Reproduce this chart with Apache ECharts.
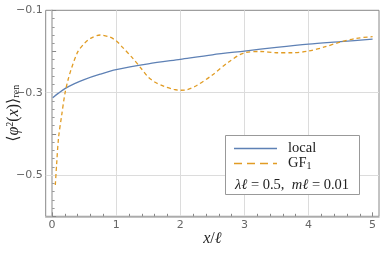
<!DOCTYPE html>
<html><head><meta charset="utf-8">
<script src="https://cdn.jsdelivr.net/npm/echarts@6/dist/echarts.min.js"></script>
<style>html,body{margin:0;padding:0;background:#fff}#c{width:390px;height:264px}</style>
</head><body><div id="c"></div>
<script>
const localX = [0.01, 0.1, 0.2, 0.35, 0.5, 0.75, 1, 1.5, 2, 2.5, 3, 3.5, 4, 4.5, 5];
const localY = [-0.312, -0.301, -0.290, -0.278, -0.268, -0.255, -0.244, -0.230, -0.219, -0.208, -0.199, -0.190, -0.182, -0.176, -0.170];
const gfX = [0.05, 0.07, 0.1, 0.15, 0.2, 0.25, 0.3, 0.4, 0.5, 0.6, 0.75, 0.9, 1.0, 1.1, 1.25, 1.4, 1.5, 1.6, 1.75, 1.9, 2.0, 2.1, 2.25, 2.5, 2.75, 3.0, 3.25, 3.5, 3.75, 4.0, 4.25, 4.5, 4.75, 5.0];
const gfY = [-0.524, -0.475, -0.41, -0.354, -0.302, -0.268, -0.242, -0.201, -0.181, -0.168, -0.160, -0.165, -0.174, -0.190, -0.215, -0.243, -0.262, -0.274, -0.285, -0.292, -0.294, -0.293, -0.283, -0.257, -0.226, -0.203, -0.200, -0.203, -0.203, -0.199, -0.189, -0.177, -0.168, -0.164];
const xLabels = [0, 1, 2, 3, 4, 5];
const xMinor = [0,0.2,0.4,0.6,0.8,1,1.2,1.4,1.6,1.8,2,2.2,2.4,2.6,2.8,3,3.2,3.4,3.6,3.8,4,4.2,4.4,4.6,4.8,5];
const yLabels = [-0.5, -0.3, -0.1];
const yMajor = [-0.6, -0.5, -0.4, -0.3, -0.2, -0.1];
const yMinor = [-0.58,-0.56,-0.54,-0.52,-0.48,-0.46,-0.44,-0.42,-0.38,-0.36,-0.34,-0.32,-0.28,-0.26,-0.24,-0.22,-0.18,-0.16,-0.14,-0.12];
const xGrid = [1, 2, 3, 4];
const yGrid = [-0.3, -0.5];

const chart = echarts.init(document.getElementById('c'), null, {renderer: 'canvas'});
const fmt = v => String(v).replace('-', '\u2212');
const serif = '"Liberation Serif","DejaVu Serif",serif';
const tickFont = {color: '#666', fontSize: 11, fontFamily: '"DejaVu Sans",sans-serif'};
const axisBase = {type: 'value', min: -0.1, max: 5.1};
const blue = '#5e81b5', orange = '#e19c24';
chart.setOption({
  animation: false,
  grid: {left: 45.7, right: 11, top: 10.3, bottom: 47.7, show: true, borderColor: '#888', borderWidth: 1, backgroundColor: 'transparent', outerBoundsMode: 'none', containLabel: false},
  xAxis: [
    Object.assign({}, axisBase, {
      position: 'bottom',
      axisLine: {show: true, lineStyle: {color: '#b0b0b0', width: 1.5}},
      axisTick: {show: true, inside: true, length: 4, customValues: xLabels, lineStyle: {color: '#888'}},
      axisLabel: {customValues: xLabels, formatter: fmt, margin: 3, ...tickFont},
      splitLine: {show: false},
      name: '{i|x}/{i|\u2113}', nameLocation: 'middle', nameGap: 14, nameMoveOverlap: false,
      nameTextStyle: {fontFamily: serif, fontSize: 16, color: '#222', verticalAlign: 'top', rich: {i: {fontStyle: 'italic', fontFamily: serif, fontSize: 16}}}
    }),
    Object.assign({}, axisBase, {
      position: 'bottom', offset: 0,
      axisLine: {show: false},
      axisTick: {show: true, inside: true, length: 2.5, customValues: xMinor, lineStyle: {color: '#888'}},
      axisLabel: {show: false},
      splitLine: {show: false}
    })
  ],
  yAxis: [
    {
      type: 'value', min: -0.6, max: -0.1, position: 'left',
      axisLine: {show: true, lineStyle: {color: '#b0b0b0', width: 1.5}},
      axisTick: {show: true, inside: true, length: 4, customValues: yMajor, lineStyle: {color: '#888'}},
      axisLabel: {customValues: yLabels, formatter: fmt, margin: 3, ...tickFont},
      splitLine: {show: false},
      name: '\u27E8{i|\u03C6}{sup|2}({i|x})\u27E9{sub|ren}', nameLocation: 'middle', nameGap: 24, nameRotate: 90, nameMoveOverlap: false,
      nameTextStyle: {fontFamily: serif, fontSize: 16, color: '#222',
        rich: {i: {fontStyle: 'italic', fontFamily: serif, fontSize: 16},
               sup: {fontFamily: serif, fontSize: 10, verticalAlign: 'top'},
               sub: {fontFamily: serif, fontSize: 10, verticalAlign: 'bottom'}}}
    },
    {
      type: 'value', min: -0.6, max: -0.1, position: 'left', offset: 0,
      axisLine: {show: false},
      axisTick: {show: true, inside: true, length: 2.5, customValues: yMinor, lineStyle: {color: '#999'}},
      axisLabel: {show: false},
      splitLine: {show: false}
    }
  ],
  graphic: [
    {type: 'rect', z: 50, shape: {x: 225.5, y: 135.5, width: 134, height: 59}, style: {fill: '#fff', stroke: '#999', lineWidth: 1}},
    {type: 'line', z: 51, shape: {x1: 234, y1: 148.5, x2: 277, y2: 148.5}, style: {stroke: blue, lineWidth: 1.3}},
    {type: 'line', z: 51, shape: {x1: 234, y1: 163.5, x2: 277, y2: 163.5}, style: {stroke: orange, lineWidth: 1.3, lineDash: [8, 5]}},
    {type: 'text', z: 51, x: 288, y: 148.5,
      style: {text: 'local', fontFamily: serif, fontSize: 14.5, fill: '#222', verticalAlign: 'middle'}},
    {type: 'text', z: 51, x: 288, y: 163.5,
      style: {text: 'GF{sub|1}', fontFamily: serif, fontSize: 14.5, fill: '#222', verticalAlign: 'middle',
        rich: {sub: {fontFamily: serif, fontSize: 10, verticalAlign: 'bottom', padding: [6, 0, 0, 0]}}}},
    {type: 'text', z: 51, x: 235, y: 185,
      style: {text: '{i|\u03BB\u2113} = 0.5,  {i|m\u2113} = 0.01', fontFamily: serif, fontSize: 14.5, fill: '#222', verticalAlign: 'middle',
        rich: {i: {fontStyle: 'italic', fontFamily: serif, fontSize: 14.5}}}}
  ],
  series: [
    {
      name: 'local', type: 'line', symbol: 'none', smooth: 0.3, z: 3,
      data: localX.map((x, i) => [x, localY[i]]),
      lineStyle: {color: blue, width: 1.3}, itemStyle: {color: blue},
      markLine: {
        silent: true, symbol: 'none', label: {show: false}, z: 1,
        lineStyle: {color: '#dcdcdc', type: 'solid', width: 1},
        data: xGrid.map(v => ({xAxis: v})).concat(yGrid.map(v => ({yAxis: v})))
      }
    },
    {
      name: 'GF1', type: 'line', symbol: 'none', smooth: 0.3, z: 4,
      data: gfX.map((x, i) => [x, gfY[i]]),
      lineStyle: {color: orange, width: 1.3, type: [4, 3]}, itemStyle: {color: orange}
    }
  ]
});
</script></body></html>
